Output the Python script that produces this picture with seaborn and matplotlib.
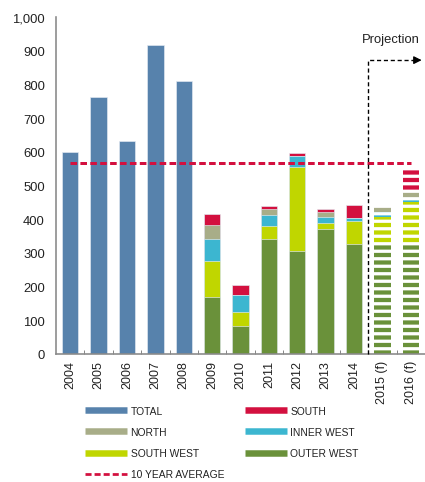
import pandas as pd
import matplotlib
matplotlib.use("Agg")
import matplotlib.pyplot as plt
import seaborn as sns
from matplotlib.lines import Line2D
from matplotlib.ticker import FuncFormatter, FixedLocator

# Data
years = ["2004", "2005", "2006", "2007", "2008", "2009", "2010",
         "2011", "2012", "2013", "2014", "2015 (f)", "2016 (f)"]
forecast = ["2015 (f)", "2016 (f)"]
total = [598, 763, 633, 916, 810, 0, 0, 0, 0, 0, 0, 0, 0]
outer_west = [0, 0, 0, 0, 0, 168, 83, 342, 307, 372, 327, 322, 322]
south_west = [0, 0, 0, 0, 0, 107, 42, 38, 247, 16, 69, 86, 128]
inner_west = [0, 0, 0, 0, 0, 67, 49, 32, 33, 18, 9, 12, 12]
north = [0, 0, 0, 0, 0, 40, 0, 17, 0, 14, 0, 20, 20]
south = [0, 0, 0, 0, 0, 33, 30, 11, 8, 9, 38, 0, 70]
ten_year_avg = 566
projection_level = 872

colors = {
    "TOTAL": "#5782ac",
    "SOUTH": "#d3103f",
    "NORTH": "#a8ad88",
    "INNER WEST": "#3cb6d0",
    "SOUTH WEST": "#c0d600",
    "OUTER WEST": "#6a913a",
}

sns.set_theme(style="white")
plt.rcParams["font.family"] = ["Liberation Sans", "DejaVu Sans"]
plt.rcParams["hatch.linewidth"] = 2.6

DPI = 90
fig = plt.figure(figsize=(425 / DPI, 483 / DPI), dpi=DPI)
ax = fig.add_axes([56 / 425, 1 - 355 / 483, 1 - 56 / 425, (355 - 18) / 483])

df = pd.DataFrame({"year": years, "TOTAL": total, "OUTER WEST": outer_west,
                   "SOUTH WEST": south_west, "INNER WEST": inner_west,
                   "NORTH": north, "SOUTH": south})

# stacked bars: draw cumulative heights from top layer down
stack = ["OUTER WEST", "SOUTH WEST", "INNER WEST", "NORTH", "SOUTH"]
layers = [("TOTAL", df["TOTAL"])]
for i in range(len(stack), 0, -1):
    layers.append((stack[i - 1], df[stack[:i]].sum(axis=1)))

for name, vals in layers:
    sns.barplot(x=df["year"], y=vals, order=years, color=colors[name],
                saturation=1, width=0.575, errorbar=None, ax=ax,
                edgecolor="#e4ebf2", linewidth=0.5)
    for lab, bar in zip(years, ax.containers[-1]):
        if lab in forecast:
            bar.set_hatch("--")
            bar.set_edgecolor("white")
            bar.set_linewidth(0)

# 10 year average
ax.plot([0, 12], [ten_year_avg, ten_year_avg], color="#d3103f", lw=2.4,
        linestyle=(0, (2.2, 1.1)), zorder=3)

# projection marker
ax.plot([10.5, 10.5, 12.15], [0, projection_level, projection_level],
        color="black", lw=1.1, linestyle=(0, (3, 2)), zorder=3, clip_on=False)
ax.annotate("", xy=(12.47, projection_level), xytext=(12.1, projection_level),
            arrowprops=dict(arrowstyle="-|>", color="black", lw=1,
                            mutation_scale=13), annotation_clip=False)
ax.text(11.3, 935, "Projection", ha="center", va="center", fontsize=10.4,
        color="#222222")

ax.set_xlim(-0.5, 12.5)
ax.set_ylim(0, 1000)
ax.set_yticks(range(0, 1001, 100))
ax.yaxis.set_major_formatter(FuncFormatter(lambda v, p: f"{int(v):,}"))
ax.set_xlabel("")
ax.set_ylabel("")
ax.tick_params(axis="y", length=0, pad=9, labelsize=10.4, labelcolor="#222222")
ax.tick_params(axis="x", length=0, pad=5, labelsize=10, labelcolor="#222222",
               rotation=90)
ax.xaxis.set_minor_locator(FixedLocator([i + 0.5 for i in range(12)]))
ax.tick_params(axis="x", which="minor", direction="in", length=3.5,
               width=0.8, color="#888888", bottom=True)

for s in ["top", "right"]:
    ax.spines[s].set_visible(False)
for s in ["left", "bottom"]:
    ax.spines[s].set_color("#8a8a8a")
    ax.spines[s].set_linewidth(1.3)

# legend, filled row-wise as in the original
h = {n: Line2D([], [], color=c, lw=5.2, solid_capstyle="butt") for n, c in colors.items()}
avg_h = Line2D([], [], color="#d3103f", lw=2.2, linestyle=(0, (2.2, 1.1)))
handles = [h["TOTAL"], h["NORTH"], h["SOUTH WEST"], avg_h,
           h["SOUTH"], h["INNER WEST"], h["OUTER WEST"]]
labels = ["TOTAL", "NORTH", "SOUTH WEST", "10 YEAR AVERAGE",
          "SOUTH", "INNER WEST", "OUTER WEST"]
fig.legend(handles, labels, ncol=2, loc="upper left",
           bbox_to_anchor=(85 / 425, 1 - 407 / 483), frameon=False,
           fontsize=8.2, handlelength=4.1, handletextpad=0.35,
           columnspacing=2.0, labelspacing=1.08, borderpad=0, borderaxespad=0,
           labelcolor="#222222")

fig.savefig("out.png", dpi=DPI)
